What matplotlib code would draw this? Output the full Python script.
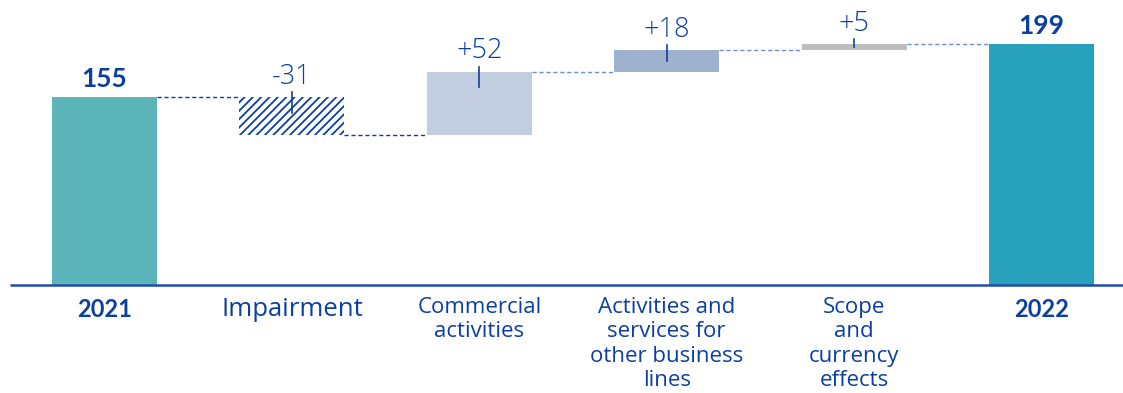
import numpy as np
import matplotlib.pyplot as plt

# bridge data
categories = ["2021", "Impairment", "Commercial\nactivities",
              "Activities and\nservices for\nother business\nlines",
              "Scope\nand\ncurrency\neffects", "2022"]
start_value = 155
changes = [-31, 52, 18, 5]
end_value = 199
value_labels = ["155", "-31", "+52", "+18", "+5", "199"]

navy = "#0b3fa0"
bar_colors = ["#5bb5b9", "white", "#c3cde0", "#9eb1cf", "#bdbdbd", "#28a1bc"]

plt.rcParams['font.family'] = ['Open Sans', 'DejaVu Sans']
plt.rcParams['hatch.linewidth'] = 1.3

fig = plt.figure(figsize=(11.23, 3.93), dpi=100)
ax = fig.add_axes([0, 0, 1, 1])

x = np.arange(len(categories))
width = 0.56

# running totals
levels = [start_value]
for c in changes:
    levels.append(levels[-1] + c)
bottoms = [0] + [min(levels[i], levels[i + 1]) for i in range(len(changes))] + [0]
heights = [start_value] + [abs(c) for c in changes] + [end_value]
tops = [b + h for b, h in zip(bottoms, heights)]

for i in range(len(x)):
    if i == 1:
        ax.bar(x[i], heights[i], width, bottom=bottoms[i], color="white",
               edgecolor=navy, hatch="////", linewidth=0)
    else:
        ax.bar(x[i], heights[i], width, bottom=bottoms[i], color=bar_colors[i],
               linewidth=0)

# dashed connectors between bars
conn_colors = [navy, navy, "#6d8fcf", "#6d8fcf", "#6d8fcf"]
for i in range(len(x) - 1):
    ax.plot([x[i] + width / 2, x[i + 1] - width / 2],
            [levels[i], levels[i]],
            ls=(0, (3, 2)), lw=1.0, color=conn_colors[i])

# value labels
for i in range(len(x)):
    if i in (0, len(x) - 1):
        ax.text(x[i], tops[i] + 5, value_labels[i], ha="center", va="bottom",
                fontsize=19, fontweight="bold", color=navy,
                family=['Lato', 'DejaVu Sans'])
    else:
        ax.text(x[i], tops[i] + 5, value_labels[i], ha="center", va="bottom",
                fontsize=19.5, fontweight="light", color=navy)
        drop = min(13, heights[i] / 2 + 0.5)
        ax.plot([x[i], x[i]], [tops[i] + 4, tops[i] - drop], color=navy, lw=1.2)

# baseline
ax.plot([0.009, 1], [0, 0], transform=ax.get_yaxis_transform(), color="#1f4ea8",
        lw=1.8, solid_capstyle="butt")

# category labels
for i, cat in enumerate(categories):
    bold = i in (0, len(x) - 1)
    if bold:
        ax.text(x[i], -11, cat, ha="center", va="top", fontsize=17,
                fontweight="bold", color=navy, family=['Lato', 'DejaVu Sans'])
    else:
        ax.text(x[i], -10, cat, ha="center", va="top",
                fontsize=18.5 if i == 1 else 16,
                color=navy, linespacing=1.2)

ax.set_xlim(-0.558, 5.435)
ax.set_ylim(-89, 235)
ax.axis("off")

fig.savefig("out.png", dpi=100)
